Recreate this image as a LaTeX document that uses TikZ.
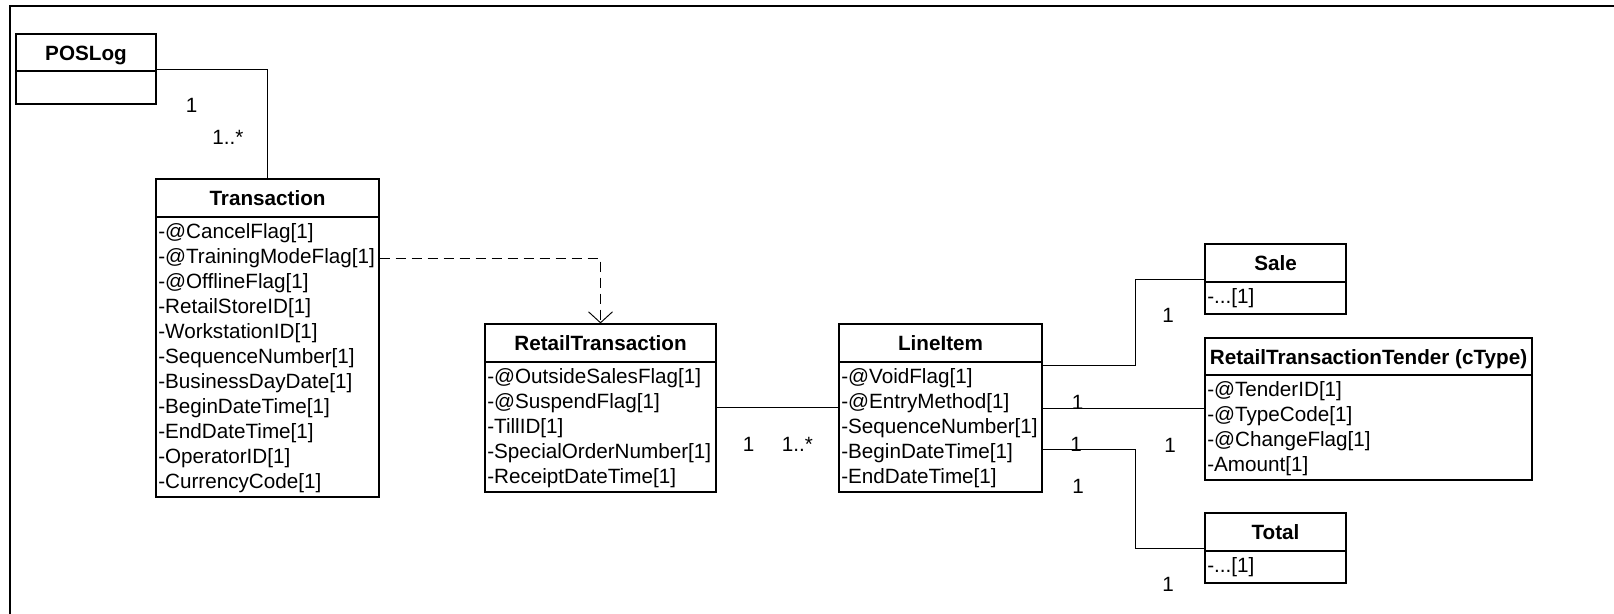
\documentclass[tikz,border=0pt]{standalone}
\usepackage{fontspec}
\setmainfont{Liberation Sans}
\usetikzlibrary{fit,calc,arrows.meta}

% #1 name, #2 left, #3 top, #4 right, #5 divider, #6 bottom, #7 title, #8 attributes
\newcommand{\umlclass}[8]{%
  \coordinate (#1-nw) at (#2,#3);
  \coordinate (#1-dw) at (#2,#5);
  \coordinate (#1-de) at (#4,#5);
  \coordinate (#1-se) at (#4,#6);
  \node[classpart, fit=(#1-nw)(#1-de)] (#1-h) {};
  \node[classpart, fit=(#1-dw)(#1-se)] (#1-b) {};
  \node[titletext] (#1-t) at ({(#2+#4)/2},{#3+26.5}) {#7};
  \foreach \r [count=\i] in {#8}
    \node[rowtext] (#1-\i) at ({#2+2},{#5+21.5+25*(\i-1)}) {\r};
}

\begin{document}
\begin{tikzpicture}[x=0.75pt,y=-0.75pt,
  classpart/.style={draw, line width=0.9pt, inner sep=0pt},
  titletext/.style={font=\fontsize{15.5}{18}\selectfont\bfseries, anchor=base, inner sep=0pt},
  rowtext/.style={font=\fontsize{15.5}{18}\selectfont, anchor=base west, inner sep=0pt},
  mult/.style={font=\fontsize{15.5}{18}\selectfont, inner sep=0pt},
  assoc/.style={line width=0.7pt},
  dep/.style={line width=0.7pt, dash pattern=on 7.5pt off 4.5pt,
    -{Straight Barb[length=8.25pt,width=18pt]}},
  frameline/.style={line width=1.5pt}]

\useasboundingbox (0,0) rectangle (1614,614);

% diagram frame
\draw[frameline] (10,614) -- (10,6) -- (1614,6);

% classes
\umlclass{pos}{16}{34}{156}{71}{104}{POSLog}{}
\umlclass{trans}{156}{179}{379}{217}{497}{Transaction}{-@CancelFlag[1],-@TrainingModeFlag[1],-@OfflineFlag[1],-RetailStoreID[1],-WorkstationID[1],-SequenceNumber[1],-BusinessDayDate[1],-BeginDateTime[1],-EndDateTime[1],-OperatorID[1],-CurrencyCode[1]}
\umlclass{rt}{485}{324}{716}{362}{492}{RetailTransaction}{-@OutsideSalesFlag[1],-@SuspendFlag[1],-TillID[1],-SpecialOrderNumber[1],-ReceiptDateTime[1]}
\umlclass{li}{839}{324}{1042}{362}{492}{LineItem}{-@VoidFlag[1],-@EntryMethod[1],-SequenceNumber[1],-BeginDateTime[1],-EndDateTime[1]}
\umlclass{sale}{1205}{244}{1346}{282}{314}{Sale}{-{.}{.}{.}[1]}
\umlclass{rtt}{1205}{338}{1532}{375}{480}{RetailTransactionTender (cType)}{-@TenderID[1],-@TypeCode[1],-@ChangeFlag[1],-Amount[1]}
\umlclass{total}{1205}{513}{1346}{551}{583}{Total}{-{.}{.}{.}[1]}

% connector end points
\coordinate (posOut) at ($(pos-h.south east)+(0,-2)$);
\coordinate (transOut) at ($(trans-b.north east)+(0,42)$);
\coordinate (rtOut) at ($(rt-b.north east)+(0,46)$);
\coordinate (liSale) at ($(li-b.north east)+(0,4)$);
\coordinate (saleIn) at ($(sale-h.south west)+(0,-3)$);
\coordinate (liTender) at ($(li-b.north east)+(0,47)$);
\coordinate (liTotal) at ($(li-b.north east)+(0,88)$);
\coordinate (totalIn) at ($(total-h.south west)+(0,-3)$);

% connectors
\draw[assoc] (posOut) -| (trans-h.north);
\draw[dep] (transOut) -| (rt-h.north);
\draw[assoc] (rtOut) -- (li-b.west |- rtOut);
\draw[assoc] (liSale) -- ++(93,0) |- (saleIn);
\draw[assoc] (liTender) -- (rtt-b.west |- liTender);
\draw[assoc] (liTotal) -- ++(93,0) |- (totalIn);

% multiplicities
\node[mult] (m1) at (191.5,105) {1};
\node[mult] (m2) at (228,137) {1..*};
\node[mult] (m3) at (748.5,444) {1};
\node[mult] (m4) at (797.5,444) {1..*};
\node[mult] (m5) at (1168,315) {1};
\node[mult] (m6) at (1077.5,402) {1};
\node[mult] (m7) at (1076,444.5) {1};
\node[mult] (m8) at (1170,445.5) {1};
\node[mult] (m9) at (1078,486) {1};
\node[mult] (m10) at (1168,584) {1};

\end{tikzpicture}
\end{document}
